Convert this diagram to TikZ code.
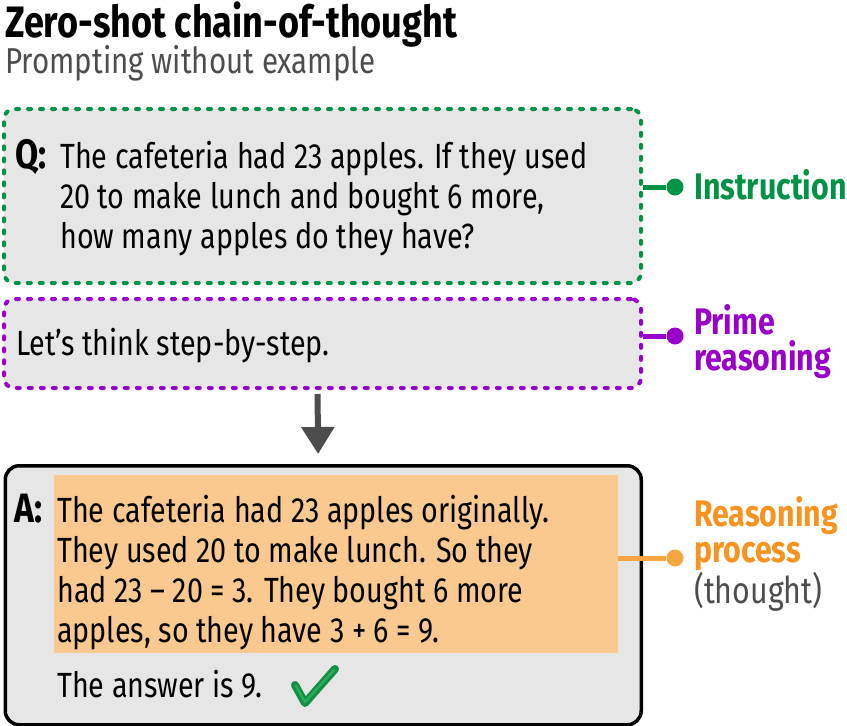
\documentclass[tikz,border=0pt]{standalone}
\usepackage{fontspec}
\setmainfont[FakeStretch=0.82]{Fira Sans}
\usetikzlibrary{arrows.meta}

\definecolor{instrgreen}{HTML}{009245}
\definecolor{primepurple}{HTML}{9900CC}
\definecolor{thoughtorange}{HTML}{F7931E}
\definecolor{thoughtfill}{HTML}{F9C98F}
\definecolor{thoughtline}{HTML}{F7A541}
\definecolor{boxgray}{HTML}{E6E6E6}
\definecolor{textgray}{HTML}{4D4D4D}
\definecolor{checkgreen}{HTML}{138F43}
\definecolor{checklight}{HTML}{2DAA5E}

\begin{document}
\begin{tikzpicture}[x=1pt, y=-1pt,
  dotbox/.style={draw, fill=boxgray, rounded corners=10pt, line width=4pt, line cap=round, dash pattern=on 3pt off 9pt, inner sep=0pt, anchor=north west},
  bodytext/.style={anchor=base west, inner sep=0pt, align=left, font=\fontsize{35}{40}\selectfont},
  boldtext/.style={bodytext, font=\fontsize{41}{40}\selectfont\bfseries},
  sidelabel/.style={anchor=base west, inner sep=0pt, align=left, font=\fontsize{37}{36}\selectfont\bfseries},
  enddot/.style={circle, fill, inner sep=0pt, minimum size=17pt},
  connector/.style={line width=5pt}]
\useasboundingbox (0,0) rectangle (847,726);

\node (title) [anchor=base west, inner sep=0pt, font=\fontsize{44}{44}\selectfont\bfseries] at (5,37) {Zero-shot chain-of-thought};
\node (subtitle) [anchor=base west, inner sep=0pt, text=textgray, font=\fontsize{36}{36}\selectfont] at (5,73) {Prompting without example};

\node (qbox) [dotbox, draw=instrgreen, minimum width=637pt, minimum height=174pt] at (2,107) {};
\node (pbox) [dotbox, draw=primepurple, minimum width=637pt, minimum height=89pt] at (2,297) {};
\node (abox) [draw, fill=boxgray, line width=3.5pt, rounded corners=14pt, inner sep=0pt, anchor=north west, minimum width=636pt, minimum height=259pt] at (3.5,464) {};
\node (thought) [fill=thoughtfill, inner sep=0pt, anchor=north west, minimum width=564pt, minimum height=178pt] at (54,475) {};

% texts (base = last line)
\node (q) [boldtext] at (15,168) {Q:};
\node (qtext) [bodytext] at (60,248) {The cafeteria had 23 apples. If they used\\20 to make lunch and bought 6 more,\\how many apples do they have?};
\node (ptext) [bodytext] at (16,355) {Let’s think step-by-step.};
\node (a) [boldtext] at (14,522) {A:};
\node (atext) [bodytext] at (57,642) {The cafeteria had 23 apples originally.\\They used 20 to make lunch. So they\\had 23 – 20 = 3. They bought 6 more\\apples, so they have 3 + 6 = 9.};
\node (answer) [bodytext] at (57,697) {The answer is 9.};

\node (instrdot) [enddot, instrgreen] at (675,187) {};
\node (primedot) [enddot, primepurple] at (675,336) {};
\node (thoughtdot) [enddot, thoughtline] at (675,558) {};
\node (instr) [sidelabel, text=instrgreen] at (694,199) {Instruction};
\node (prime) [sidelabel, text=primepurple] at (694,370) {Prime\\reasoning};
\node (reason) [sidelabel, text=thoughtorange] at (694,603) {Reasoning\\process\\{\mdseries\color{textgray}(thought)}};

\draw [connector, instrgreen] (instrdot) -- (instrdot -| qbox.east);
\draw [connector, primepurple] (primedot) -- (primedot -| pbox.east);
\draw [connector, thoughtline] (thoughtdot) -- (thoughtdot -| thought.east);

\draw [-{Triangle[width=32pt, length=27pt]}, textgray, line width=6pt, shorten <=4pt, shorten >=10pt] ([xshift=-5pt]pbox.south) -- ([xshift=-5pt]abox.north);

% check mark
\draw [checkgreen, line width=8pt, line cap=round, line join=round] (295,685) -- (305,703) -- (335,669);
\draw [checklight, line width=2.5pt, line cap=round, line join=round] (296,686) -- (305,702) -- (334,670);

\end{tikzpicture}
\end{document}
